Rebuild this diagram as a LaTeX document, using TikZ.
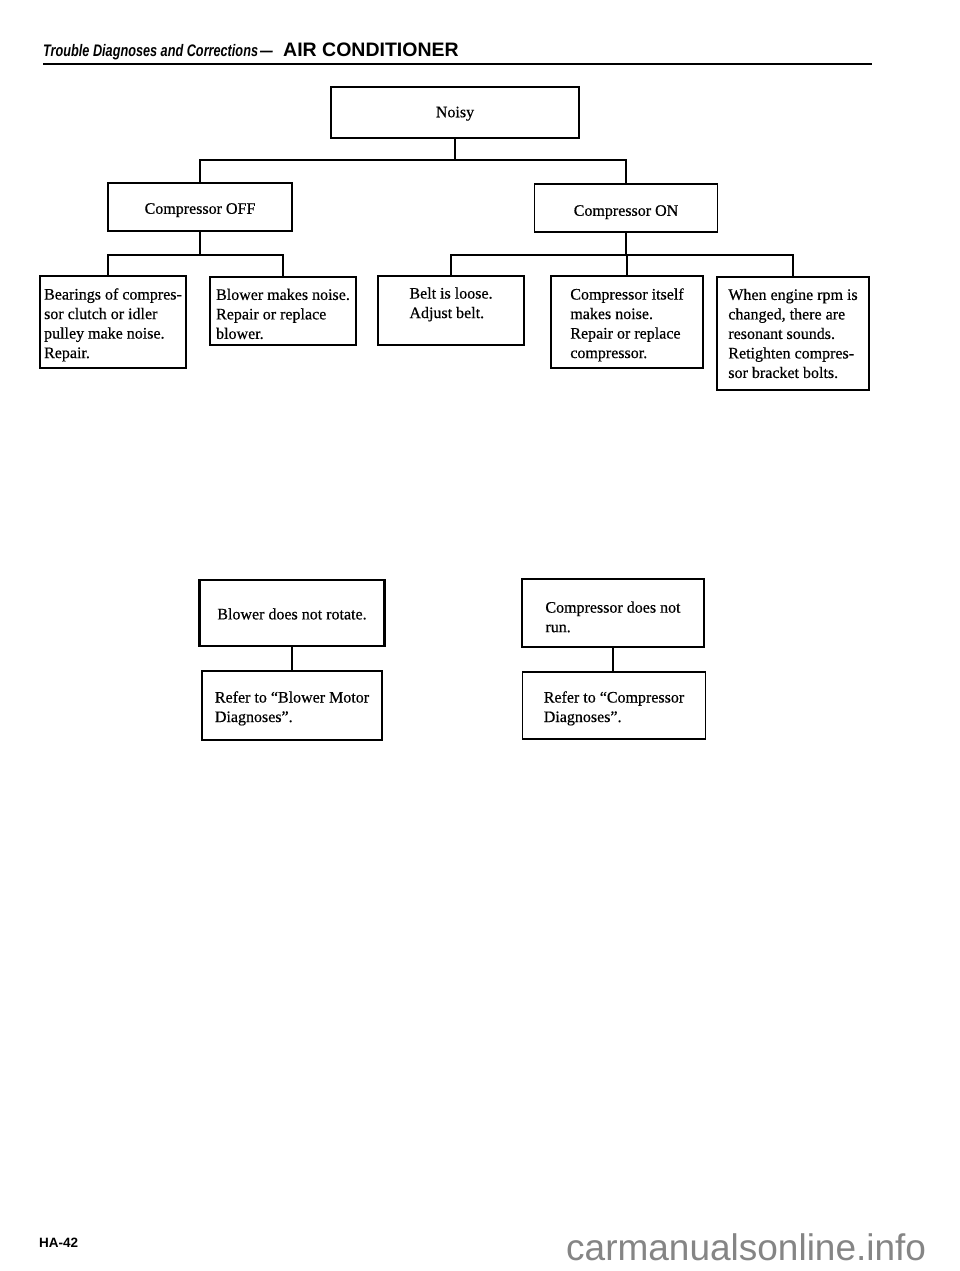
\documentclass[tikz,border=0pt]{standalone}
\usepackage{fontspec}
\setmainfont{Liberation Serif}[FakeBold=0.5]
\newfontfamily\hdrsans{Liberation Sans}
\newcommand\topgap[1]{\rule{0pt}{#1}}
\begin{document}
\begin{tikzpicture}[x=1pt,y=-1pt,
  box/.style={draw, line width=1.4pt, inner sep=0pt, align=left,
    font=\fontsize{16}{19.5}\selectfont},
  thickbox/.style={box, line width=2.2pt},
  conn/.style={line width=1.6pt}]
\fill[white] (0,0) rectangle (960,1271);
\useasboundingbox (0,0) rectangle (960,1271);

% header
\node[anchor=base west, inner sep=0pt] (hdrit) at (43,57)
  {\scalebox{0.76}[1]{\hdrsans\bfseries\itshape\fontsize{16.7}{18}\selectfont Trouble Diagnoses and Corrections\,—}};
\node[anchor=base west, inner sep=0pt] (hdrbf) at (283,57)
  {\hdrsans\bfseries\fontsize{19.5}{20}\selectfont AIR CONDITIONER};
\coordinate (ruleL) at (43,64);
\coordinate (ruleR) at (872,64);
\draw[line width=2pt] (ruleL) -- (ruleR);

% boxes
\node[thickbox, minimum width=248pt, minimum height=51pt, align=center] (noisy) at (455,112.5) {\topgap{13pt}Noisy};
\node[box, minimum width=184pt, minimum height=48pt, align=center] (off) at (200,207) {\topgap{17pt}Compressor OFF};
\node[box, minimum width=183pt, minimum height=48pt, align=center] (on) at (626,208) {\topgap{19pt}Compressor ON};

\node[box, minimum width=146pt, minimum height=92pt] (bear) at (113,322)
  {\topgap{17pt}Bearings of compres-\\sor clutch or idler\\pulley make noise.\\Repair.};
\node[box, minimum width=146pt, minimum height=68pt] (blow) at (283,311)
  {\topgap{17pt}Blower makes noise.\\Repair or replace\\blower.};
\node[box, minimum width=146pt, minimum height=69pt] (belt) at (451,310.5)
  {\topgap{21pt}Belt is loose.\\Adjust belt.\\\strut};
\node[box, minimum width=152pt, minimum height=92pt] (itself) at (627,322)
  {\topgap{17pt}Compressor itself\\makes noise.\\Repair or replace\\compressor.};
\node[box, minimum width=152pt, minimum height=113pt] (rpm) at (793,333.5)
  {When engine rpm is\\changed, there are\\resonant sounds.\\Retighten compres-\\sor bracket bolts.};

\node[thickbox, minimum width=185pt, minimum height=66pt] (bdnr) at (292,613)
  {\topgap{13pt}Blower does not rotate.};
\node[box, minimum width=180pt, minimum height=69pt] (refb) at (292,705.5)
  {\topgap{17pt}Refer to “Blower Motor\\Diagnoses”.};
\node[thickbox, minimum width=182pt, minimum height=68pt] (cdnr) at (613,613)
  {\topgap{19pt}Compressor does not\\run.};
\node[box, minimum width=183pt, minimum height=67pt] (refc) at (614,705.5)
  {\topgap{17pt}Refer to “Compressor\\Diagnoses”.};

% connectors
\coordinate (bar1) at (0,160);
\coordinate (bar2) at (0,255);
\draw[conn] (noisy.south) -- (noisy.south |- bar1);
\draw[conn] (off.north) |- (bar1 -| on.north) -- (on.north);
\draw[conn] (off.south) -- (off.south |- bar2);
\draw[conn] ([xshift=-5pt]bear.north) |- (bar2 -| blow.north) -- (blow.north);
\draw[conn] (on.south) -- (on.south |- bar2);
\draw[conn] (belt.north) |- (bar2 -| rpm.north) -- (rpm.north);
\draw[conn] (itself.north) -- (itself.north |- bar2);
\draw[conn] (bdnr.south) -- (bdnr.south |- refb.north);
\draw[conn] (cdnr.south) -- (cdnr.south |- refc.north);

% footer
\node[anchor=base west, inner sep=0pt] (page) at (39,1247)
  {\hdrsans\bfseries\fontsize{13.5}{14}\selectfont HA-42};
\node[anchor=base west, inner sep=0pt, text=black!48] (wm) at (566,1260)
  {\hdrsans\fontsize{37}{38}\selectfont carmanualsonline.info};
\end{tikzpicture}
\end{document}
